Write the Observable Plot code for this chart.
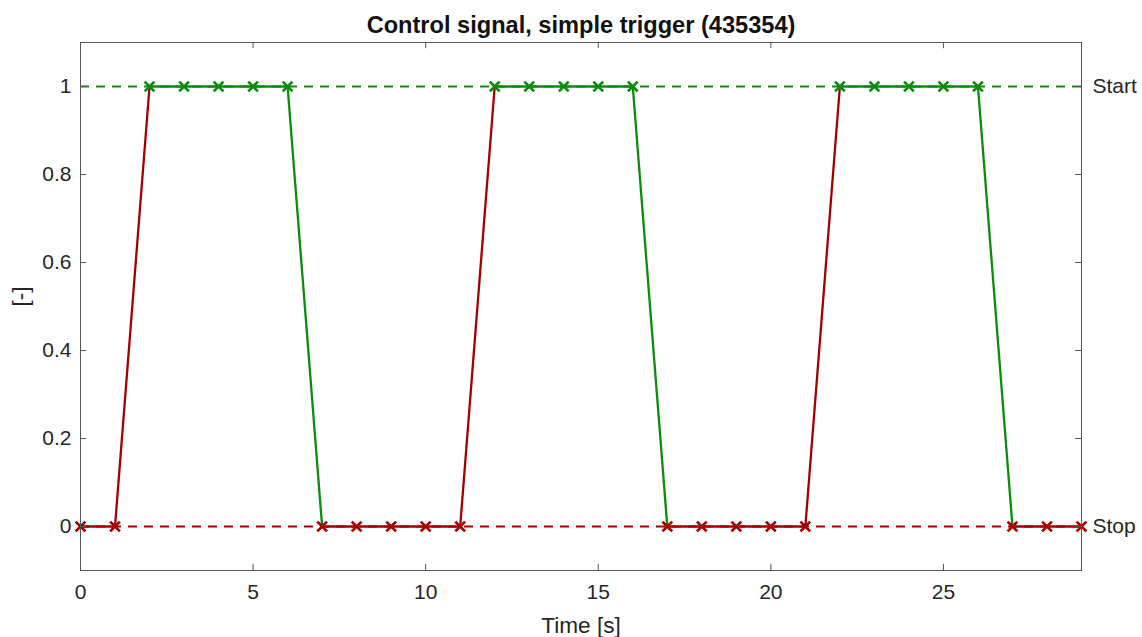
<!DOCTYPE html>
<html><head><meta charset="utf-8">
<script src="https://cdn.jsdelivr.net/npm/d3@7"></script>
<script src="https://cdn.jsdelivr.net/npm/@observablehq/plot@0.6"></script>
<style>body{margin:0;background:#fff;}</style>
</head><body><div id="chart"></div>
<script>
const time   = [0,1,2,3,4,5,6,7,8,9,10,11,12,13,14,15,16,17,18,19,20,21,22,23,24,25,26,27,28,29];
const signal = [0,0,1,1,1,1,1,0,0,0,0,0,1,1,1,1,1,0,0,0,0,0,1,1,1,1,1,0,0,0];
const stateLevels = [1, 0];
const stateNames = ["Start", "Stop"];
const xTicks = [0,5,10,15,20,25];
const yTicks = [0,0.2,0.4,0.6,0.8,1];
const titleText = "Control signal, simple trigger (435354)";
const xLabel = "Time [s]";
const yLabel = "[-]";

const GREEN = "#0c8c0c", RED = "#a30000", AX = "#555555";
const colorOf = v => v >= 0.5 ? GREEN : RED;
const xDom = [0, 29], yDom = [-0.1, 1.1];

const pts = time.map((t, i) => ({t, v: signal[i]}));
const segs = time.slice(1).map((t, i) => ({x1: time[i], y1: signal[i], x2: t, y2: signal[i + 1], s: signal[i]}));
const levels = stateLevels.map((v, i) => ({v, name: stateNames[i]}));

const ty = 0.17; // tick length in x units

const plot = Plot.plot({
  width: 1142, height: 637,
  marginLeft: 80, marginRight: 61, marginTop: 42, marginBottom: 67,
  x: {domain: xDom},
  y: {domain: yDom},
  style: {fontFamily: "Liberation Sans, Arial, sans-serif", fontSize: "21px", color: "#262626", background: "#fff"},
  marks: [
    Plot.ruleY(levels, {y: "v", x1: xDom[0], x2: xDom[1], stroke: d => colorOf(d.v), strokeWidth: 2, strokeDasharray: "9,7"}),
    Plot.link(segs, {x1: "x1", y1: "y1", x2: "x2", y2: "y2", stroke: d => colorOf(d.s), strokeWidth: 2.3}),
    Plot.dot(pts, {x: "t", y: "v", symbol: "times", r: 4.5, stroke: d => colorOf(d.v), strokeWidth: 2.8}),
    Plot.frame({stroke: AX, strokeWidth: 1}),
    Plot.ruleX(xTicks, {x: d => d, y1: yDom[0], y2: yDom[0] + 0.014, stroke: AX}),
    Plot.ruleX(xTicks, {x: d => d, y1: yDom[1], y2: yDom[1] - 0.014, stroke: AX}),
    Plot.ruleY(yTicks, {y: d => d, x1: xDom[0], x2: xDom[0] + ty, stroke: AX}),
    Plot.ruleY(yTicks, {y: d => d, x1: xDom[1], x2: xDom[1] - ty, stroke: AX}),
    Plot.axisX({ticks: xTicks, tickSize: 0, tickPadding: 14, fontSize: 21, tickFormat: d => String(d), label: null}),
    Plot.axisY({ticks: yTicks, tickSize: 0, tickPadding: 9, fontSize: 21, tickFormat: d => String(d), label: null}),
    Plot.text(levels, {x: xDom[1], y: "v", text: "name", dx: 11, textAnchor: "start", fontSize: 21, fill: "#262626"}),
    Plot.text([titleText], {frameAnchor: "top", lineAnchor: "middle", dy: -17, fontSize: 23.6, fontWeight: "bold", fill: "#111"}),
    Plot.text([xLabel], {frameAnchor: "bottom", lineAnchor: "middle", dy: 55, fontSize: 22.6, fill: "#262626"}),
    Plot.text([yLabel], {frameAnchor: "left", lineAnchor: "middle", dx: -60, rotate: -90, fontSize: 22.6, fill: "#262626"})
  ]
});
document.getElementById("chart").appendChild(plot);
</script>
</body></html>
